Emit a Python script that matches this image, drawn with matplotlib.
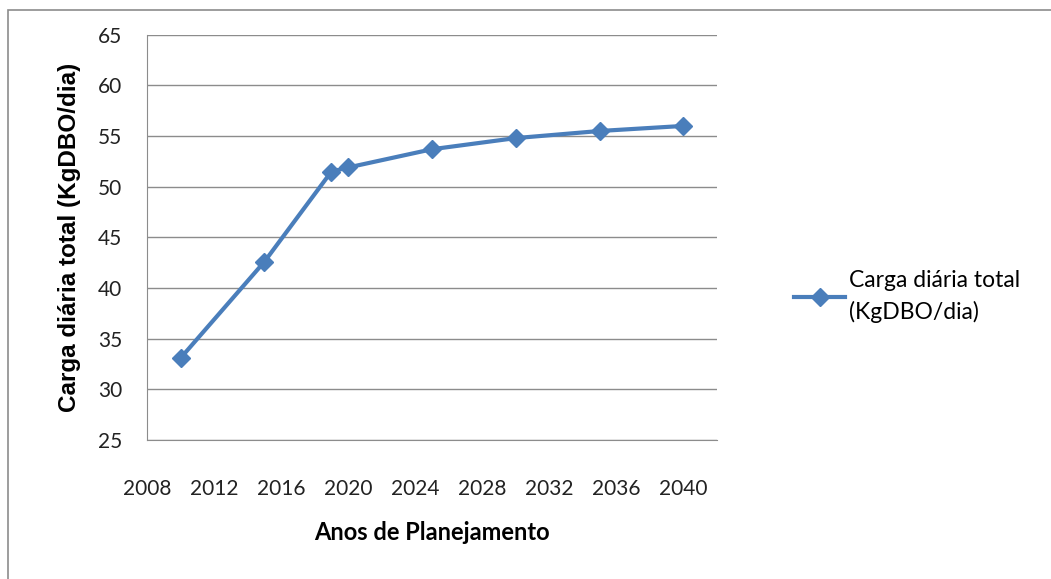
import matplotlib.pyplot as plt
from matplotlib.patches import Rectangle

anos = [2010, 2015, 2019, 2020, 2025, 2030, 2035, 2040]
carga = [33.1, 42.6, 51.5, 51.9, 53.7, 54.8, 55.5, 56.0]
xticks = list(range(2008, 2041, 4))
yticks = list(range(25, 66, 5))

fig = plt.figure(figsize=(10.51, 5.79), dpi=100)
fig.patches.append(Rectangle((0.008, -0.02), 1.1, 1.002, transform=fig.transFigure,
                             fill=False, edgecolor='#8c8c8c', linewidth=1.2))
ax = fig.add_axes([0.140, 0.240, 0.542, 0.700])

ax.plot(anos, carga, color='#4a7ebb', linewidth=3, marker='D', markersize=9,
        label='Carga diária total\n(KgDBO/dia)')

ax.set_xlim(2008, 2042)
ax.set_ylim(25, 65)
ax.set_xticks(xticks)
ax.set_yticks(yticks)
ax.tick_params(length=0, labelsize=15)
ax.tick_params(axis='y', pad=18)
ax.tick_params(axis='x', pad=28)
for lab in ax.get_xticklabels() + ax.get_yticklabels():
    lab.set_family('Lato')
    lab.set_color('#222222')
ax.grid(axis='y', color='#8c8c8c', linewidth=1)
ax.set_axisbelow(True)
for s in ['top', 'right']:
    ax.spines[s].set_visible(False)
for s in ['left', 'bottom']:
    ax.spines[s].set_color('#8c8c8c')

ax.set_ylabel('Carga diária total (KgDBO/dia)', family='Liberation Sans',
              fontweight='bold', fontsize=17.5, labelpad=12)
ax.set_xlabel('Anos de Planejamento', family='Lato', fontweight='bold',
              fontsize=17, labelpad=16)

leg = ax.legend(loc='center left', bbox_to_anchor=(1.10, 0.355), frameon=False,
                prop={'family': 'Lato', 'size': 16.5}, handlelength=2.2,
                handletextpad=0.2)
for t in leg.get_texts():
    t.set_linespacing(1.55)

fig.savefig('out.png', dpi=100)
